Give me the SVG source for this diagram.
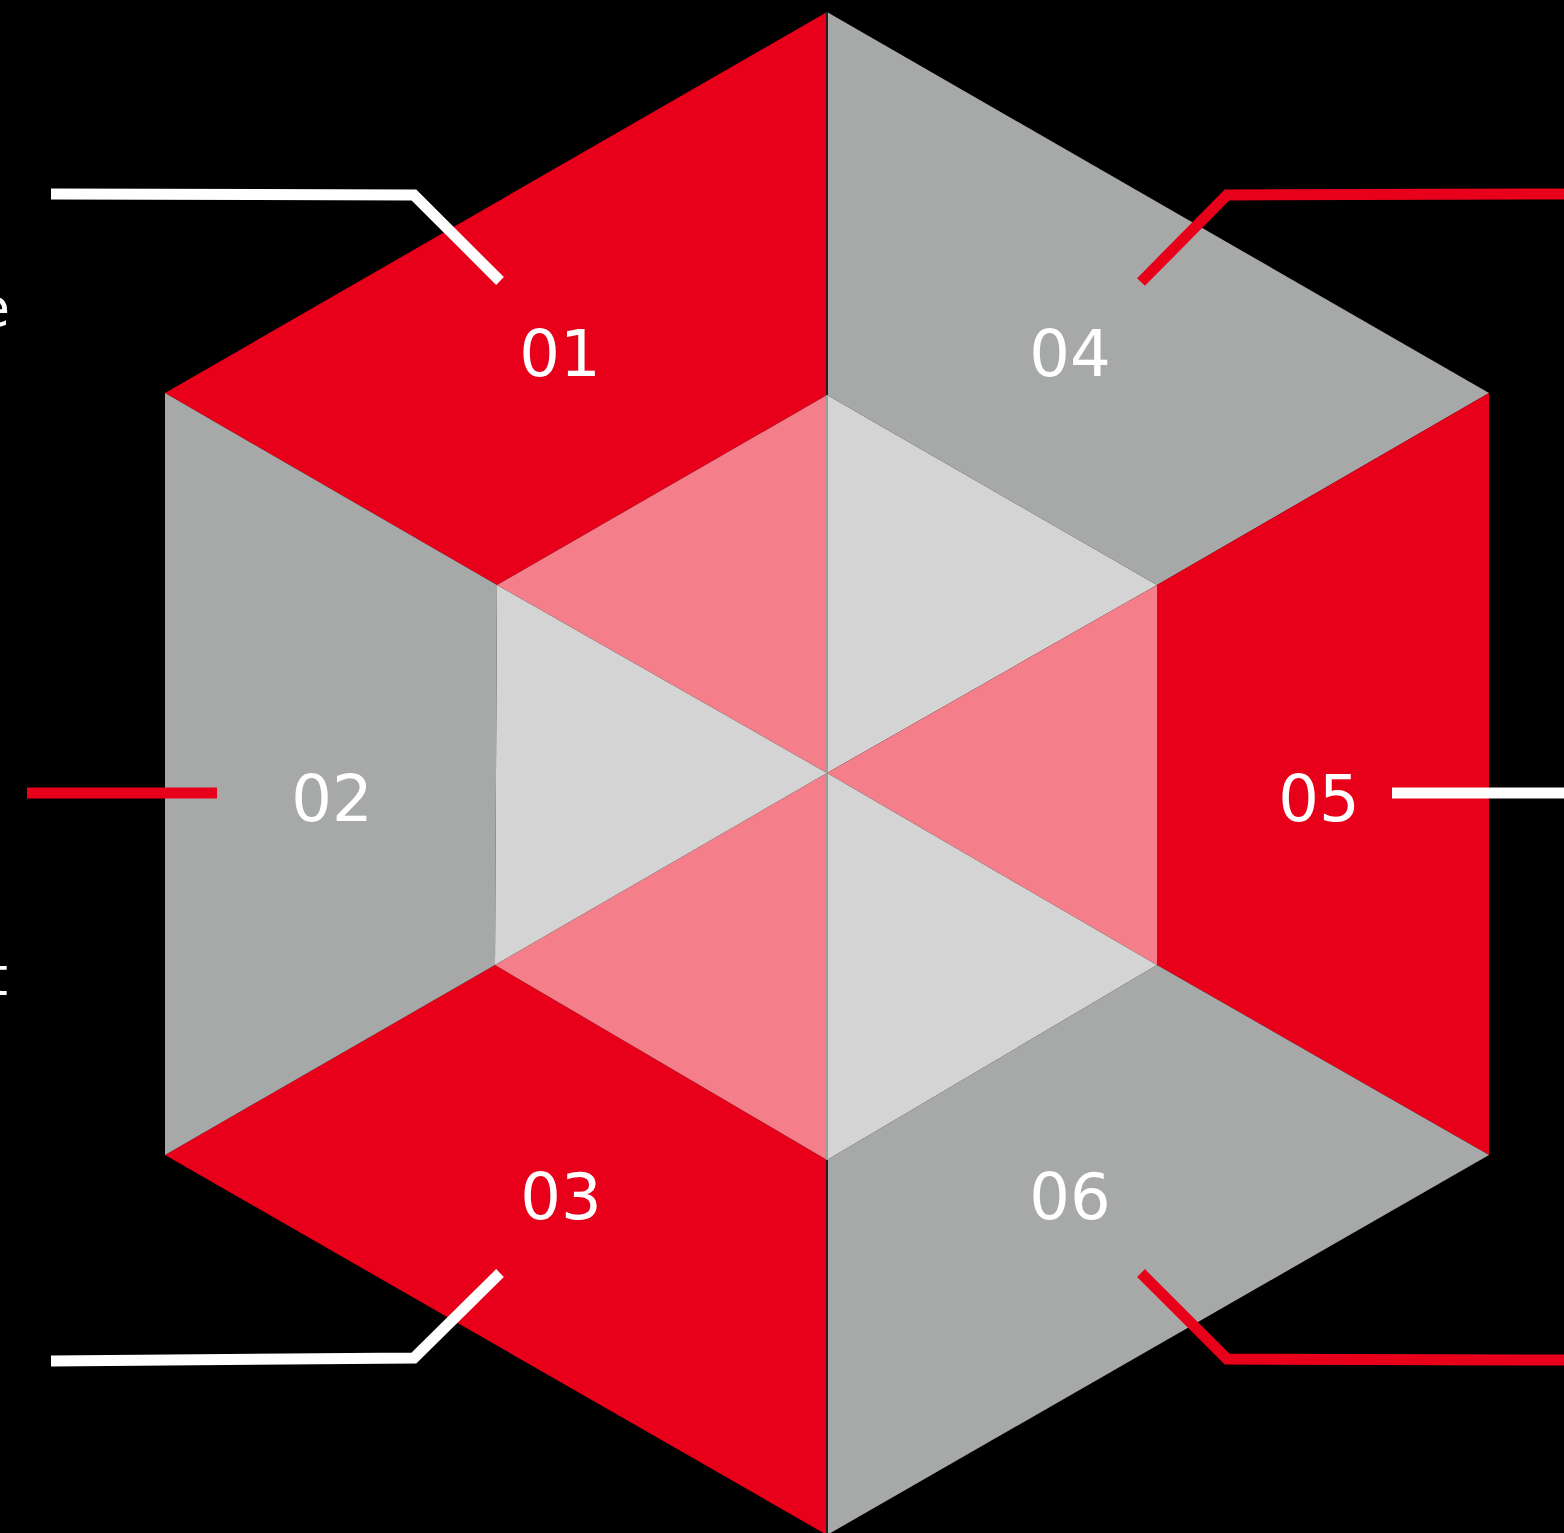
<svg xmlns="http://www.w3.org/2000/svg" width="1564" height="1533" viewBox="0 0 1564 1533">
<style>
.red{fill:#E8001A}
.gray{fill:#A6A9A7}
.pink{fill:#F47F8A}
.lgray{fill:#D3D4D3}
.lbl{font-family:"DejaVu Sans",sans-serif;font-size:64px;fill:#FFFFFF;text-anchor:middle}
.side{font-family:"DejaVu Sans",sans-serif;font-size:54px;fill:#FFFFFF;text-anchor:end}
.cw{fill:none;stroke:#FFFFFF;stroke-width:11}
.cr{fill:none;stroke:#E8001A;stroke-width:11}
</style>
<rect x="0" y="0" width="1564" height="1533" fill="#000000"/>
<g id="node-01">
<polygon class="red" points="827,12 165,393 497,585 827,395"/>
<text class="lbl" x="560" y="376">01</text>
</g>
<g id="node-04">
<polygon class="gray" points="827,12 1489,393 1157,585 827,395"/>
<text class="lbl" x="1070" y="376">04</text>
</g>
<g id="node-05">
<polygon class="red" points="1489,393 1489,1155 1157,965 1157,585"/>
<text class="lbl" x="1319" y="821">05</text>
</g>
<g id="node-06">
<polygon class="gray" points="1489,1155 827,1535 827,1160 1157,965"/>
<text class="lbl" x="1070" y="1219">06</text>
</g>
<g id="node-03">
<polygon class="red" points="827,1535 165,1155 495,965 827,1160"/>
<text class="lbl" x="561" y="1219">03</text>
</g>
<g id="node-02">
<polygon class="gray" points="165,1155 165,393 497,585 495,965"/>
<text class="lbl" x="332" y="821">02</text>
</g>
<g id="center">
<polygon class="pink" points="827,395 497,585 827,773"/>
<polygon class="lgray" points="827,395 1157,585 827,773"/>
<polygon class="pink" points="1157,585 1157,965 827,773"/>
<polygon class="lgray" points="1157,965 827,1160 827,773"/>
<polygon class="pink" points="827,1160 495,965 827,773"/>
<polygon class="lgray" points="495,965 497,585 827,773"/>
<line x1="827" y1="395" x2="827" y2="1160" stroke="#9A9C9B" stroke-width="2"/>
<line x1="827" y1="12" x2="827" y2="395" stroke="#222222" stroke-width="2"/>
<line x1="827" y1="1160" x2="827" y2="1535" stroke="#222222" stroke-width="2"/>
</g>
<g id="connectors">
<polyline class="cw" points="51,194 414,195 500,281"/>
<polyline class="cr" points="27,793 217,793"/>
<polyline class="cw" points="51,1361 414,1358 500,1273"/>
<polyline class="cr" points="1141,282 1227,195 1564,194"/>
<polyline class="cw" points="1392,793 1564,793"/>
<polyline class="cr" points="1141,1273 1227,1359 1564,1360"/>
</g>
<g id="side-texts">
<text class="side" x="10" y="326">e</text>
<text class="side" x="8" y="995">t</text>
</g>
</svg>
